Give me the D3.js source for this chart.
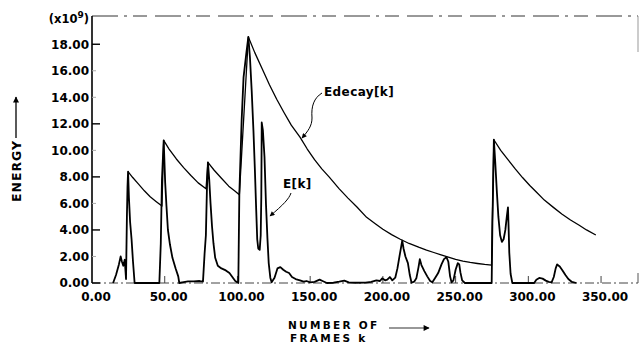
<!DOCTYPE html>
<html><head><meta charset="utf-8">
<script src="https://cdn.jsdelivr.net/npm/d3@7"></script>
<style>
html,body{margin:0;padding:0;background:#fff;}
svg text{font-family:"DejaVu Sans",sans-serif;font-weight:bold;fill:#000;}
</style></head>
<body><svg id="c" width="639" height="345"></svg>
<script>
// ---- data ----
const xTicks = [0, 50, 100, 150, 200, 250, 300, 350];
const yTicks = [0, 2, 4, 6, 8, 10, 12, 14, 16, 18];
const faintYTicks = [2, 6, 10, 14, 16];

const ekFrames = [14.5,16.5,18.5,19.7,20.6,21.5,22.5,23.4,24.0,24.4,24.8,25.4,26.2,27.2,28.2,29.3,
  46.3,47.3,48.1,49.3,50.3,51.2,52.2,53.6,55.3,57.5,59.3,60.0,62,66,70,74,76.3,77.4,78.3,79.0,79.7,
  80.6,81.5,82.5,83.5,84.7,86.5,89,92,94.5,96.5,98.5,100.6,101.3,102.9,104.2,106.2,107.5,108.6,109.8,
  111.0,112.0,112.9,113.6,114.3,115.3,116.0,116.4,116.7,117.5,118.6,119.6,120.6,121.5,122.6,123.5,
  125.5,127.5,129.5,131.5,133.5,135.5,137.5,140,143,145.5,147.5,150,153,156.5,158.5,161.5,166,170,
  173.5,176.5,182,188,192,195.5,198,199.5,201.5,203,204.8,206.5,208.5,210,211.7,213.3,214.2,215.5,
  217.2,218.5,219.7,221.5,223,224.5,225.4,226.5,228.5,230.5,232.5,234,236,238,240.3,242,243.7,245,
  246.2,247.2,248.5,250,251.5,252.5,253.3,254.5,256.4,274.8,275.3,275.8,276.3,277.3,278.4,279.4,280.6,
  281.8,283,284.2,285.2,286.0,286.4,286.9,287.8,289,304,305.5,307.5,309.8,312,314,316,317.5,318.8,
  319.8,321.6,323.5,325.5,327.5,330,333];
const ekValues = [0,0.6,1.4,2.0,1.6,1.3,1.75,0.3,5.0,7.2,8.4,6.4,4.6,3.3,1.6,0,
  0,3.0,7.8,10.75,7.6,5.8,4.0,2.9,1.9,1.1,0.5,0,0.05,0.12,0.12,0.15,0.1,2.2,3.6,7.0,9.1,
  7.8,6.0,4.3,3.0,1.9,1.3,1.1,0.95,0.75,0.45,0.15,0,6.7,12.3,15.5,17.4,18.55,17.0,14.5,
  11.5,8.5,5.5,3.3,2.6,2.5,3.6,6.5,12.1,11.5,9.5,6.0,3.4,1.5,0.4,0.05,
  0.4,1.1,1.2,1.0,0.85,0.75,0.45,0.3,0.2,0.1,0.15,0.05,0.08,0.25,0.15,0,0.02,0.1,
  0.18,0.05,0.02,0.03,0.08,0.2,0.15,0.35,0.2,0.25,0.45,0.2,0.4,1.1,2.2,3.2,2.6,2.0,
  1.5,0.6,0.02,0.1,0.35,1.2,1.8,1.35,0.9,0.5,0.15,0.05,0.4,0.75,1.4,1.8,1.95,1.6,
  0.5,0.05,0.2,1.0,1.5,1.4,0.8,0.2,0,0,4.5,7.5,10.8,9.0,6.8,5.0,3.6,
  3.1,3.3,4.0,5.0,5.7,4.3,2.3,0.7,0,0,0.25,0.38,0.33,0.18,0.08,0.05,0.45,1.1,
  1.4,1.25,0.95,0.6,0.3,0.08,0];

const decayFrames = [24.8,28,32,36,40,44,48.1,49.3,53,58,63,68,73,78.4,79.7,84,89,94,98,101.3,
  107.5,112,117,122,127,132,137,143,148,153,158,163,170,176,182,188.8,195,200,206,211.6,218,225,230,
  235,240,245,250,255,260,265,270,274.7,276.3,281,286,291,296,301,306,311,317,323,329,335,340,346.4];
const decayValues = [8.4,7.95,7.45,6.95,6.5,6.15,5.8,10.75,10.1,9.35,8.7,8.1,7.55,7.1,9.1,8.5,7.9,7.3,6.95,6.65,
  18.55,17.35,16.15,14.95,13.85,12.85,11.9,11.0,10.1,9.3,8.6,8.0,7.1,6.4,5.75,4.95,4.45,4.05,3.65,3.32,2.98,2.68,2.48,
  2.3,2.12,1.95,1.78,1.65,1.55,1.47,1.4,1.35,10.8,10.0,9.3,8.6,7.95,7.35,6.8,6.25,5.72,5.2,4.75,4.35,4.0,3.62];

// ---- chart ----
const svg = d3.select("#c");
const x = d3.scaleLinear().domain([0, 375.4]).range([92, 638]);
const y = d3.scaleLinear().domain([0, 20.13]).range([283, 16]);
const fmt = d3.format(".2f");

// frame: top dashed line, right edge fragments
svg.append("line").attr("x1", 92).attr("x2", 638).attr("y1", 16).attr("y2", 16)
  .attr("stroke", "#333").attr("stroke-width", 1).attr("stroke-dasharray", "26,6,3,6,14,8");
svg.append("line").attr("x1", 638).attr("x2", 638).attr("y1", 16).attr("y2", 52)
  .attr("stroke", "#999").attr("stroke-width", 1);
svg.append("line").attr("x1", 638).attr("x2", 638).attr("y1", 273).attr("y2", 283)
  .attr("stroke", "#555").attr("stroke-width", 1);

// x baseline (dashed as in scan)
svg.append("line").attr("x1", 92).attr("x2", 638).attr("y1", y(0)).attr("y2", y(0))
  .attr("stroke", "#444").attr("stroke-width", 1).attr("stroke-dasharray", "9,3,2,3");

// y axis line
svg.append("line").attr("x1", 92).attr("x2", 92).attr("y1", 16).attr("y2", y(0))
  .attr("stroke", "#000").attr("stroke-width", 1.6);

// y ticks + labels
const yg = svg.append("g");
yTicks.forEach(v => {
  const faint = faintYTicks.includes(v);
  yg.append("line").attr("x1", 92).attr("x2", faint ? 96 : 100)
    .attr("y1", y(v)).attr("y2", y(v))
    .attr("stroke", faint ? "#aaa" : "#000").attr("stroke-width", faint ? 1 : 1.4);
  yg.append("text").attr("x", 89).attr("y", y(v)).attr("dy", "0.36em")
    .attr("text-anchor", "end").attr("font-size", 12).text(fmt(v));
});

// x ticks + labels
const xg = svg.append("g");
xTicks.forEach(v => {
  if (v > 0) xg.append("line").attr("x1", x(v)).attr("x2", x(v)).attr("y1", y(0)).attr("y2", y(0) - 7)
    .attr("stroke", "#444").attr("stroke-width", 1);
  xg.append("text").attr("x", x(v) + 4).attr("y", 301).attr("text-anchor", "middle")
    .attr("font-size", 12).text(fmt(v));
});

// (x10^9)
const ex = svg.append("text").attr("x", 89).attr("y", 22.5).attr("text-anchor", "end").attr("font-size", 11.5);
ex.append("tspan").text("(x10");
ex.append("tspan").attr("dy", -5).attr("font-size", 9).text("9");
ex.append("tspan").attr("dy", 5).text(")");

// arrow markers
const defs = svg.append("defs");
defs.append("marker").attr("id", "ah").attr("viewBox", "0 0 10 10").attr("refX", 9).attr("refY", 5)
  .attr("markerWidth", 9).attr("markerHeight", 6).attr("markerUnits", "userSpaceOnUse")
  .attr("orient", "auto").append("path").attr("d", "M0,0L10,5L0,10Z").attr("fill", "#000");
defs.append("marker").attr("id", "ah2").attr("viewBox", "0 0 10 10").attr("refX", 9).attr("refY", 5)
  .attr("markerWidth", 7).attr("markerHeight", 5).attr("markerUnits", "userSpaceOnUse")
  .attr("orient", "auto").append("path").attr("d", "M0,0L10,5L0,10Z").attr("fill", "#000");

// ENERGY label + arrow
svg.append("text").attr("transform", "translate(21,171) rotate(-90)").attr("text-anchor", "middle")
  .attr("font-size", 12.5).attr("letter-spacing", 1).text("ENERGY");
svg.append("line").attr("x1", 16).attr("x2", 16).attr("y1", 138).attr("y2", 97)
  .attr("stroke", "#000").attr("stroke-width", 1.3).attr("marker-end", "url(#ah)");

// NUMBER OF FRAMES k
svg.append("text").attr("x", 288).attr("y", 329).attr("font-size", 10.5).attr("letter-spacing", 2.3).text("NUMBER OF");
svg.append("text").attr("x", 290).attr("y", 342).attr("font-size", 10.5).attr("letter-spacing", 2.3).text("FRAMES k");
svg.append("line").attr("x1", 389).attr("x2", 429).attr("y1", 328).attr("y2", 328)
  .attr("stroke", "#333").attr("stroke-width", 1.2).attr("marker-end", "url(#ah)");

// curves
const line = d3.line().x(d => x(d[0])).y(d => y(d[1]));
const decayPts = decayFrames.map((k, i) => [k, decayValues[i]]);
const ekPts = ekFrames.map((k, i) => [k, ekValues[i]]);

svg.append("path").datum(decayPts).attr("d", line).attr("fill", "none")
  .attr("stroke", "#000").attr("stroke-width", 1.3).attr("stroke-linejoin", "round");
svg.append("path").datum(ekPts).attr("d", line).attr("fill", "none")
  .attr("stroke", "#000").attr("stroke-width", 1.8).attr("stroke-linejoin", "round");

// annotations
svg.append("text").attr("x", 324).attr("y", 96).attr("font-size", 12).attr("letter-spacing", 0.4).text("Edecay[k]");
svg.append("path").attr("d", "M322,93 C314,98 311,106 312,118 C312,126 308,131 302,138")
  .attr("fill", "none").attr("stroke", "#000").attr("stroke-width", 1).attr("marker-end", "url(#ah2)");

svg.append("text").attr("x", 283).attr("y", 188).attr("font-size", 12).attr("letter-spacing", 0.4).text("E[k]");
svg.append("path").attr("d", "M291,193 C289,199 283,205 270,216")
  .attr("fill", "none").attr("stroke", "#000").attr("stroke-width", 1).attr("marker-end", "url(#ah2)");
</script></body></html>
